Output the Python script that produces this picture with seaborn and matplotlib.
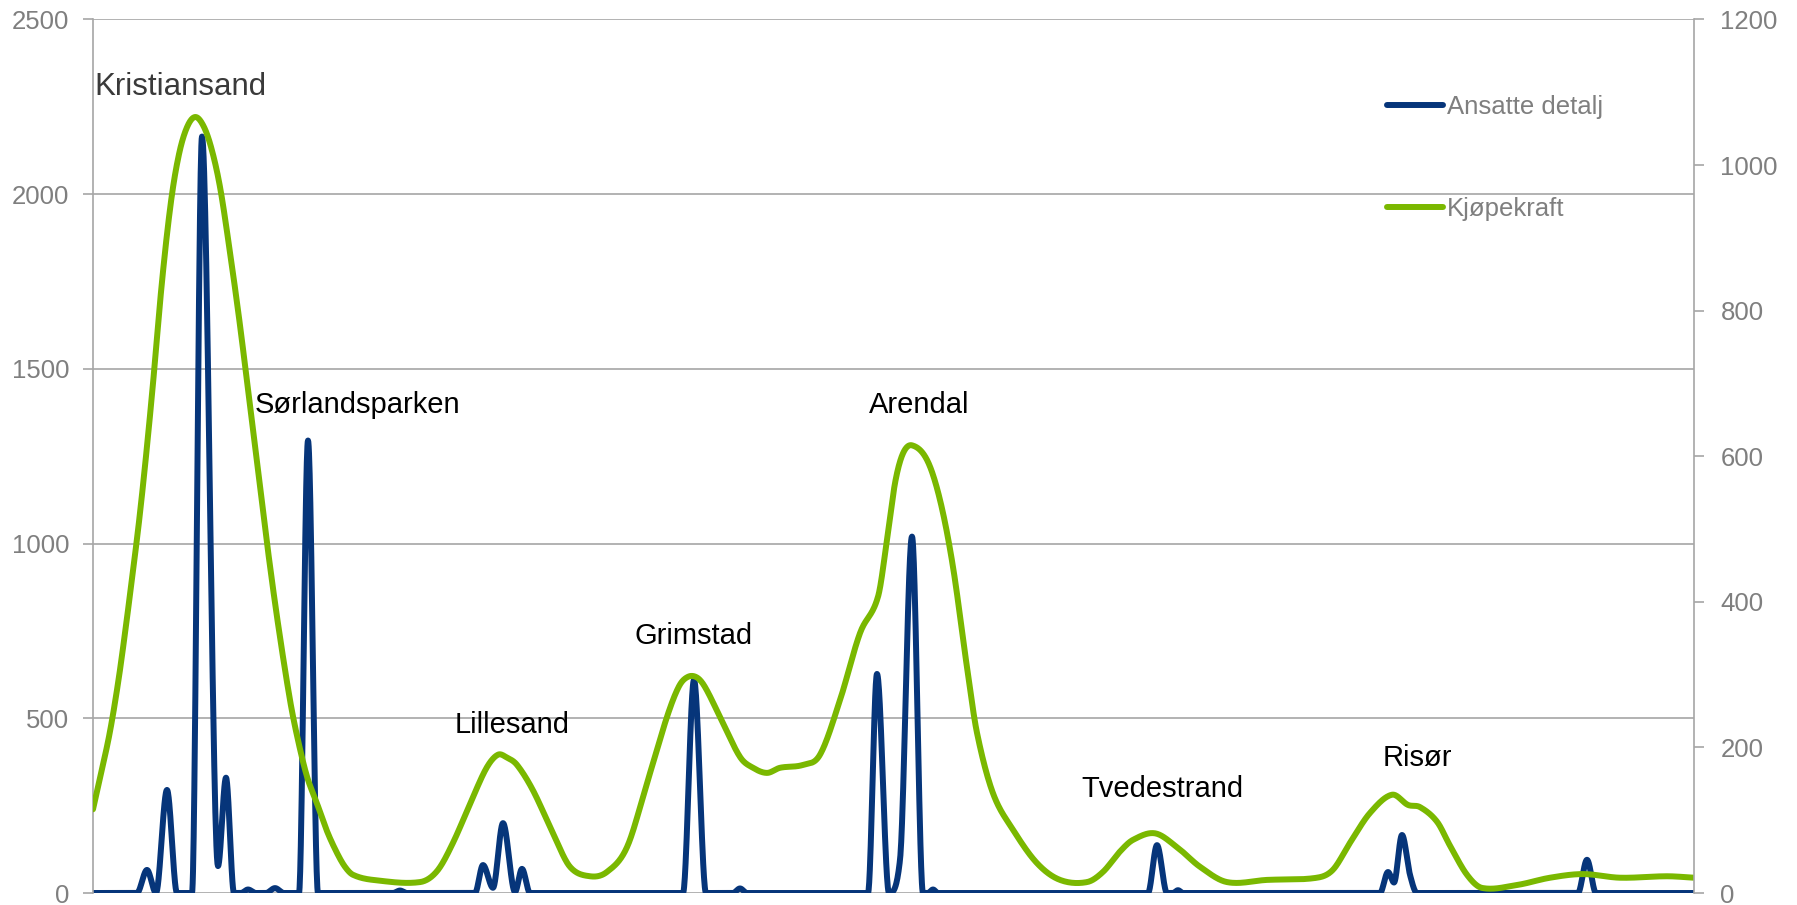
import numpy as np
import pandas as pd
import matplotlib
matplotlib.use("Agg")
import matplotlib.pyplot as plt
import seaborn as sns
from matplotlib.lines import Line2D

# Position along the coast (chart units, west to east)
kjopekraft_pos = [0.0, 0.9, 1.7, 2.5, 3.2, 3.9, 4.6, 5.3, 6.0, 6.9, 7.8, 8.6, 9.4,
                  10.2, 11.0, 11.8, 12.7, 13.7, 14.7, 15.6, 16.5, 17.5, 18.5, 19.7,
                  20.5, 21.4, 22.4, 23.4, 24.4, 25.2, 26.0, 28.0, 32.7, 34.4,
                  36.0, 38.0, 39.4, 40.5, 41.4, 42.4, 44.0, 46.0, 47.7, 49.7, 51.4, 53.4,
                  55.4, 57.4, 58.6, 59.5, 60.4, 61.2, 62.7, 64.7, 66.0, 67.4, 68.7,
                  71.0, 72.7, 74.7, 76.7, 78.5, 79.4, 80.2, 81.0, 81.9, 83.4, 84.7,
                  86.0, 87.4, 88.4, 90.0, 92.0, 94.4, 96.7, 99.4, 101.0, 102.7,
                  104.0, 106.2, 108.4, 110.7, 113.4, 117.4, 122.4, 124.0, 125.7,
                  127.7, 129.9, 131.5, 132.7, 134.4, 135.7, 137.4, 138.9, 142.4,
                  145.7, 149.0, 152.7, 157.4, 160.1]
kjopekraft = [115, 170, 222, 288, 357, 432, 510, 600, 700, 840, 950, 1015, 1052,
              1066, 1055, 1025, 970, 880, 780, 680, 580, 470, 370, 265,
              210, 160, 123, 85, 55, 36, 25, 18, 15, 30,
              69, 132, 173, 190, 186, 176, 141, 82, 36, 23, 29, 63,
              151, 242, 284, 297, 296, 283, 242, 187, 172, 165, 172,
              176, 190, 265, 357, 407, 485, 563, 604, 615, 595, 540,
              448, 310, 220, 137, 87, 41, 18, 15, 29, 57,
              73, 82, 63, 36, 15, 18, 21, 32, 69,
              110, 135, 121, 118, 98, 65, 25, 7, 11,
              21, 26, 21, 23, 21]

ansatte_pos = [0.0, 4.4, 5.4, 6.3, 7.4, 8.4, 9.9, 10.9, 12.5, 13.3, 14.1, 14.8, 15.5,
               16.3, 17.3, 18.2, 19.1, 20.6, 21.5, 22.5, 30.0, 30.7, 31.4, 38.2,
               39.0, 40.0, 41.0, 42.2, 42.9, 43.7, 59.0, 60.1, 61.3, 64.0, 64.7,
               65.4, 77.5, 78.4, 79.6, 80.7, 81.9, 83.0, 83.5, 84.0, 84.5, 105.5,
               106.4, 107.4, 108.0, 108.5, 109.0, 128.7, 129.5, 130.1, 130.9,
               131.7, 132.4, 148.5, 149.4, 150.3, 160.1]
ansatte = [0, 0, 66, 0, 295, 0, 0, 2165, 77, 330, 0, 0, 10,
           0, 0, 14, 0, 0, 1295, 0, 0, 7, 0, 0,
           80, 15, 200, 3, 69, 0, 0, 610, 0, 0, 13,
           0, 0, 627, 0, 95, 1020, 0, 0, 10, 0, 0,
           137, 0, 0, 8, 0, 0, 60, 30, 166,
           52, 0, 0, 95, 0, 0]

places = ["Kristiansand", "Sørlandsparken", "Lillesand", "Grimstad",
          "Arendal", "Tvedestrand", "Risør"]
place_pos = [0.1, 16.2, 36.2, 54.1, 77.6, 98.8, 129.0]
place_level = [2285, 1375, 458, 713, 1375, 275, 364]

series_names = ["Ansatte detalj", "Kjøpekraft"]

BLUE = "#06357A"
GREEN = "#7AB800"
GRID = "#A6A6A6"
TICK_TXT = "#7F7F7F"


def _hermite(x, y, m, steps):
    h = np.diff(x)
    t = np.linspace(0, 1, steps, endpoint=False)
    h00 = 2 * t**3 - 3 * t**2 + 1
    h10 = t**3 - 2 * t**2 + t
    h01 = -2 * t**3 + 3 * t**2
    h11 = t**3 - t**2
    xs, ys = [], []
    for k in range(len(h)):
        xs.append(x[k] + t * h[k])
        ys.append(h00 * y[k] + h10 * h[k] * m[k] + h01 * y[k + 1] + h11 * h[k] * m[k + 1])
    xs.append([x[-1]])
    ys.append([y[-1]])
    return np.concatenate(xs), np.concatenate(ys)


def smooth_line(x, y, steps=30):
    """Catmull-Rom style smoothed line through the points."""
    x = np.asarray(x, float)
    y = np.asarray(y, float)
    m = np.empty_like(y)
    m[1:-1] = (y[2:] - y[:-2]) / (x[2:] - x[:-2])
    m[0] = (y[1] - y[0]) / (x[1] - x[0])
    m[-1] = (y[-1] - y[-2]) / (x[-1] - x[-2])
    return _hermite(x, y, m, steps)


def smooth_spikes(x, y, steps=30):
    """Monotone cubic (Fritsch-Carlson) curve: smooth, but never dips
    below the zero baseline between spikes."""
    x = np.asarray(x, float)
    y = np.asarray(y, float)
    h = np.diff(x)
    d = np.diff(y) / h
    m = np.empty_like(y)
    m[0], m[-1] = d[0], d[-1]
    m[1:-1] = (d[:-1] + d[1:]) / 2
    m[1:-1][d[:-1] * d[1:] <= 0] = 0
    for k in range(len(d)):
        if d[k] == 0:
            m[k] = m[k + 1] = 0
        else:
            a, b = m[k] / d[k], m[k + 1] / d[k]
            s = a * a + b * b
            if s > 9:
                t = 3 / np.sqrt(s)
                m[k], m[k + 1] = t * a * d[k], t * b * d[k]
    return _hermite(x, y, m, steps)


sns.set_theme(style="white")
plt.rcParams["font.family"] = ["Liberation Sans", "DejaVu Sans"]

W, H = 1797, 905
fig = plt.figure(figsize=(W / 100, H / 100), dpi=100)
ax = fig.add_axes([93 / W, 1 - 893 / H, (1694 - 93) / W, (893 - 19.5) / H])
ax2 = ax.twinx()

bx, by = smooth_spikes(ansatte_pos, ansatte)
gx, gy = smooth_line(kjopekraft_pos, kjopekraft)
blue_df = pd.DataFrame({"pos": bx, "value": by})
green_df = pd.DataFrame({"pos": gx, "value": gy})

LW = 4.3
sns.lineplot(data=blue_df, x="pos", y="value", ax=ax, color=BLUE, linewidth=LW,
             estimator=None, sort=False, solid_capstyle="round", solid_joinstyle="round")
sns.lineplot(data=green_df, x="pos", y="value", ax=ax2, color=GREEN, linewidth=LW,
             estimator=None, sort=False, solid_capstyle="round", solid_joinstyle="round")

ax.set_xlim(0, 160.1)
ax.set_ylim(0, 2500)
ax2.set_ylim(0, 1200)
ax.set_yticks(range(0, 2501, 500))
ax2.set_yticks(range(0, 1201, 200))
ax.set_xticks([])
ax.set_xlabel("")
ax.set_ylabel("")
ax2.set_ylabel("")

ax.yaxis.grid(True, color=GRID, linewidth=1.2)
ax.xaxis.grid(False)
ax2.grid(False)

for a in (ax, ax2):
    for side in ("top", "bottom"):
        a.spines[side].set_visible(False)
ax.spines["right"].set_visible(False)
ax2.spines["left"].set_visible(False)
ax.spines["left"].set_color(GRID)
ax.spines["left"].set_linewidth(1.2)
ax2.spines["right"].set_color(GRID)
ax2.spines["right"].set_linewidth(1.2)

ax.tick_params(axis="y", which="both", left=True, direction="out", length=7, width=1.2,
               color=GRID, labelsize=18.5, labelcolor=TICK_TXT, pad=10)
ax2.tick_params(axis="y", which="both", right=True, direction="out", length=7, width=1.2,
                color=GRID, labelsize=18.5, labelcolor=TICK_TXT, pad=12)

for name, px, lvl in zip(places, place_pos, place_level):
    big = name == "Kristiansand"
    ax.text(px, lvl, name, ha="left", va="baseline",
            fontsize=22.5 if big else 21,
            color="#3A3A3A" if big else "#000000", zorder=5)

handles = [Line2D([], [], color=BLUE, linewidth=LW, solid_capstyle="round"),
           Line2D([], [], color=GREEN, linewidth=LW, solid_capstyle="round")]
fig.legend(handles, series_names, loc="center left",
           bbox_to_anchor=(1387 / W, 1 - 158 / H), frameon=False,
           fontsize=18.5, labelcolor=TICK_TXT, handlelength=2.18,
           handletextpad=0.16, labelspacing=3.0, borderpad=0, borderaxespad=0)

fig.savefig("out.png", dpi=100)
